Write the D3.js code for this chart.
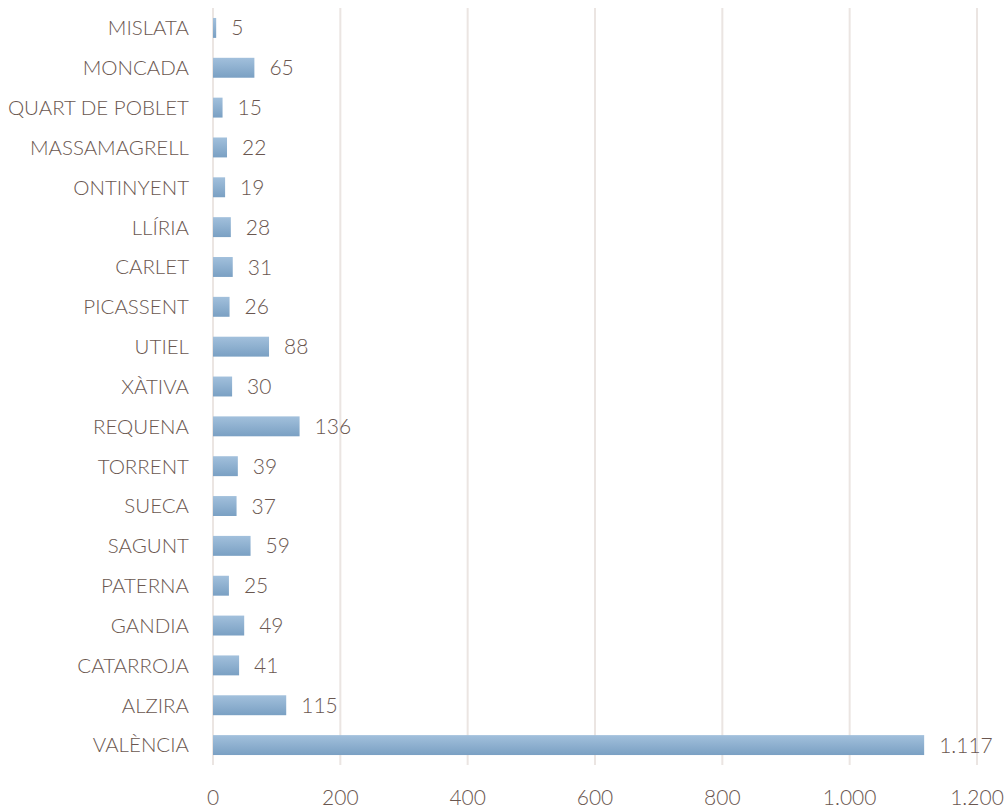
<!DOCTYPE html>
<html>
<head>
<meta charset="utf-8">
<script src="https://cdn.jsdelivr.net/npm/d3@7"></script>
<style>
  body { margin: 0; background: #fff; }
  text { font-family: Lato, "Open Sans", sans-serif; font-weight: 300; fill: #6a5750; }
</style>
</head>
<body>
<svg id="chart" width="1006" height="808"></svg>
<script>
// data
var cities = ['MISLATA','MONCADA','QUART DE POBLET','MASSAMAGRELL','ONTINYENT','LLÍRIA','CARLET','PICASSENT','UTIEL','XÀTIVA','REQUENA','TORRENT','SUECA','SAGUNT','PATERNA','GANDIA','CATARROJA','ALZIRA','VALÈNCIA'];
var values = [5,65,15,22,19,28,31,26,88,30,136,39,37,59,25,49,41,115,1117];
var ticks = [0,200,400,600,800,1000,1200];

var svg = d3.select('#chart');
var plotLeft = 213, plotRight = 977, plotTop = 8, plotBottom = 765;

var fmt = d3.formatLocale({decimal: ',', thousands: '.', grouping: [3], currency: ['', '€']}).format(',d');

var x = d3.scaleLinear().domain([0,1200]).range([plotLeft,plotRight]);
var y = d3.scaleBand().domain(cities).range([plotTop,plotBottom]).paddingInner(0.5).paddingOuter(0.25);

var grad = svg.append('defs').append('linearGradient')
              .attr('id','barGrad')
              .attr('x1',0).attr('y1',0).attr('x2',0).attr('y2',1);
grad.append('stop').attr('offset','0%').attr('stop-color','#a2c0dc');
grad.append('stop').attr('offset','100%').attr('stop-color','#7aa0c3');

// grid
svg.append('g').selectAll('line')
   .data(ticks)
   .join('line')
   .attr('x1',d => x(d)).attr('x2',d => x(d))
   .attr('y1',plotTop).attr('y2',plotBottom)
   .attr('stroke','#ebe5e2')
   .attr('stroke-width',2);

// bars
svg.append('g').selectAll('rect')
   .data(values)
   .join('rect')
   .attr('x',x(0))
   .attr('y',(d,i) => y(cities[i]))
   .attr('width',d => x(d)-x(0))
   .attr('height',y.bandwidth())
   .attr('fill','url(#barGrad)');

// value labels
svg.append('g').selectAll('text')
   .data(values)
   .join('text')
   .text(d => fmt(d))
   .attr('x',d => x(d)+15)
   .attr('y',(d,i) => y(cities[i])+y.bandwidth()/2)
   .attr('dy','0.36em')
   .style('font-size','21px');

// category axis
svg.append('g').selectAll('text')
   .data(cities)
   .join('text')
   .text(d => d)
   .attr('x',plotLeft-24)
   .attr('y',d => y(d)+y.bandwidth()/2)
   .attr('dy','0.36em')
   .attr('text-anchor','end')
   .style('font-size','20.5px');

// value axis
svg.append('g').selectAll('text')
   .data(ticks)
   .join('text')
   .text(d => fmt(d))
   .attr('x',d => x(d))
   .attr('y',797)
   .attr('dy','0.36em')
   .attr('text-anchor','middle')
   .style('font-size','21px');
</script>
</body>
</html>
